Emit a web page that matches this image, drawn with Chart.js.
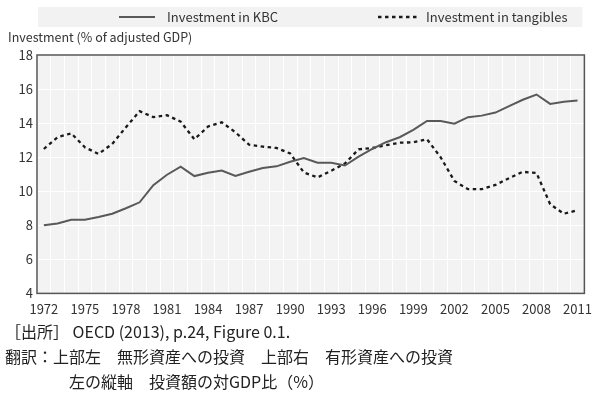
<!DOCTYPE html>
<html>
<head>
<meta charset="utf-8">
<script src="https://cdn.jsdelivr.net/npm/chart.js@4"></script>
<style>
  body { margin: 0; background: #fff; font-family: "Noto Sans CJK JP", sans-serif; }
  #wrap { position: relative; width: 600px; height: 328px; }
  .note { position: absolute; left: 5px; top: 319px; font-size: 16px; line-height: 25px; color: #222; }
  .note .indent { padding-left: 64px; }
</style>
</head>
<body>
<div id="wrap"><canvas id="investChart"></canvas></div>
<div class="note">
  <div>［出所］ OECD (2013), p.24, Figure 0.1.</div>
  <div>翻訳：上部左　無形資産への投資　上部右　有形資産への投資</div>
  <div class="indent">左の縦軸　投資額の対GDP比（%）</div>
</div>
<script>
const years = ['1972', '1973', '1974', '1975', '1976', '1977', '1978', '1979', '1980', '1981',
               '1982', '1983', '1984', '1985', '1986', '1987', '1988', '1989', '1990', '1991',
               '1992', '1993', '1994', '1995', '1996', '1997', '1998', '1999', '2000', '2001',
               '2002', '2003', '2004', '2005', '2006', '2007', '2008', '2009', '2010', '2011'];

const kbc = [8.0, 8.1, 8.33, 8.33, 8.49, 8.68, 9.0, 9.35, 10.36, 10.97,
             11.44, 10.89, 11.08, 11.22, 10.9, 11.14, 11.36, 11.46, 11.73, 11.95,
             11.67, 11.67, 11.51, 12.03, 12.48, 12.88, 13.17, 13.6, 14.13, 14.13,
             13.97, 14.35, 14.44, 14.62, 15.0, 15.37, 15.68, 15.13, 15.25, 15.33];

const tangibles = [12.48, 13.17, 13.4, 12.58, 12.19, 12.78, 13.76, 14.7, 14.35, 14.46,
                   14.09, 13.05, 13.8, 14.05, 13.46, 12.73, 12.62, 12.54, 12.22, 11.1,
                   10.81, 11.2, 11.63, 12.46, 12.54, 12.7, 12.85, 12.87, 13.05, 11.99,
                   10.6, 10.12, 10.12, 10.37, 10.77, 11.14, 11.07, 9.24, 8.68, 8.88];

const yTicks = [4, 6, 8, 10, 12, 14, 16, 18];

const FONT = '"Noto Sans CJK JP", sans-serif';

// gray panels behind the plot and the legend strip, dark frame round the plot
const panelPlugin = {
    id: 'panel',
    beforeDraw(chart) {
        const { ctx, chartArea: a } = chart;
        ctx.save();
        ctx.fillStyle = '#f2f2f2';
        ctx.fillRect(a.left + 1, 7, a.right - a.left - 3, 20);
        ctx.fillStyle = '#f3f3f3';
        ctx.fillRect(a.left, a.top, a.right - a.left, a.bottom - a.top);
        ctx.restore();
    },
    beforeDatasetsDraw(chart) {
        const { ctx, chartArea: a } = chart;
        ctx.save();
        ctx.strokeStyle = '#555';
        ctx.lineWidth = 1.5;
        ctx.strokeRect(a.left, a.top, a.right - a.left, a.bottom - a.top);
        ctx.restore();
    }
};

// legend strip: line sample + label for each dataset, spaced like the original
const legendSlots = [{ x: 119, w: 36, tx: 167 }, { x: 378, w: 39, tx: 426 }];
const lineLegendPlugin = {
    id: 'lineLegend',
    afterDraw(chart) {
        const { ctx } = chart;
        const y = 17;
        chart.data.datasets.forEach((ds, i) => {
            const s = legendSlots[i];
            ctx.save();
            ctx.strokeStyle = ds.borderColor;
            ctx.lineWidth = ds.borderWidth;
            ctx.setLineDash(ds.borderDash || []);
            ctx.beginPath();
            ctx.moveTo(s.x, y);
            ctx.lineTo(s.x + s.w, y);
            ctx.stroke();
            ctx.setLineDash([]);
            ctx.fillStyle = '#333';
            ctx.font = '13px ' + FONT;
            ctx.textBaseline = 'middle';
            ctx.fillText(ds.label, s.tx, y);
            ctx.restore();
        });
    }
};

const ctx = document.getElementById('investChart').getContext('2d');
const investChart = new Chart(ctx, {
    type: 'line',
    data: {
        labels: years,
        datasets: [{
            label: 'Investment in KBC',
            data: kbc,
            borderColor: '#595959',
            borderWidth: 2,
            pointRadius: 0,
            tension: 0
        }, {
            label: 'Investment in tangibles',
            data: tangibles,
            borderColor: '#1a1a1a',
            borderWidth: 2.3,
            borderDash: [3.5, 3.5],
            pointRadius: 0,
            tension: 0
        }]
    },
    options: {
        responsive: true,
        maintainAspectRatio: false,
        animation: false,
        layout: { padding: { left: 8, right: 2, top: 30, bottom: 3 } },
        plugins: {
            legend: { display: false },
            title: {
                display: true,
                text: 'Investment (% of adjusted GDP)',
                align: 'start',
                color: '#333',
                font: { family: FONT, size: 12.5, weight: 'normal' },
                padding: { top: 0, bottom: 10 }
            },
            tooltip: { enabled: false }
        },
        scales: {
            x: {
                offset: true,
                grid: { color: '#fff', lineWidth: 1, offset: true, drawTicks: false },
                border: { display: false },
                ticks: {
                    autoSkip: false,
                    maxRotation: 0,
                    padding: 8,
                    color: '#333',
                    font: { family: FONT, size: 13 },
                    callback: (v, i) => (i % 3 === 0 ? years[i] : '')
                }
            },
            y: {
                min: 4,
                max: 18,
                afterFit(scale) { scale.width = 29; },
                afterBuildTicks(scale) { scale.ticks = yTicks.map(v => ({ value: v })); },
                grid: { color: '#fff', lineWidth: 1, drawTicks: false },
                border: { display: false },
                ticks: {
                    padding: 4,
                    color: '#333',
                    font: { family: FONT, size: 13 }
                }
            }
        }
    },
    plugins: [panelPlugin, lineLegendPlugin]
});
</script>
</body>
</html>
